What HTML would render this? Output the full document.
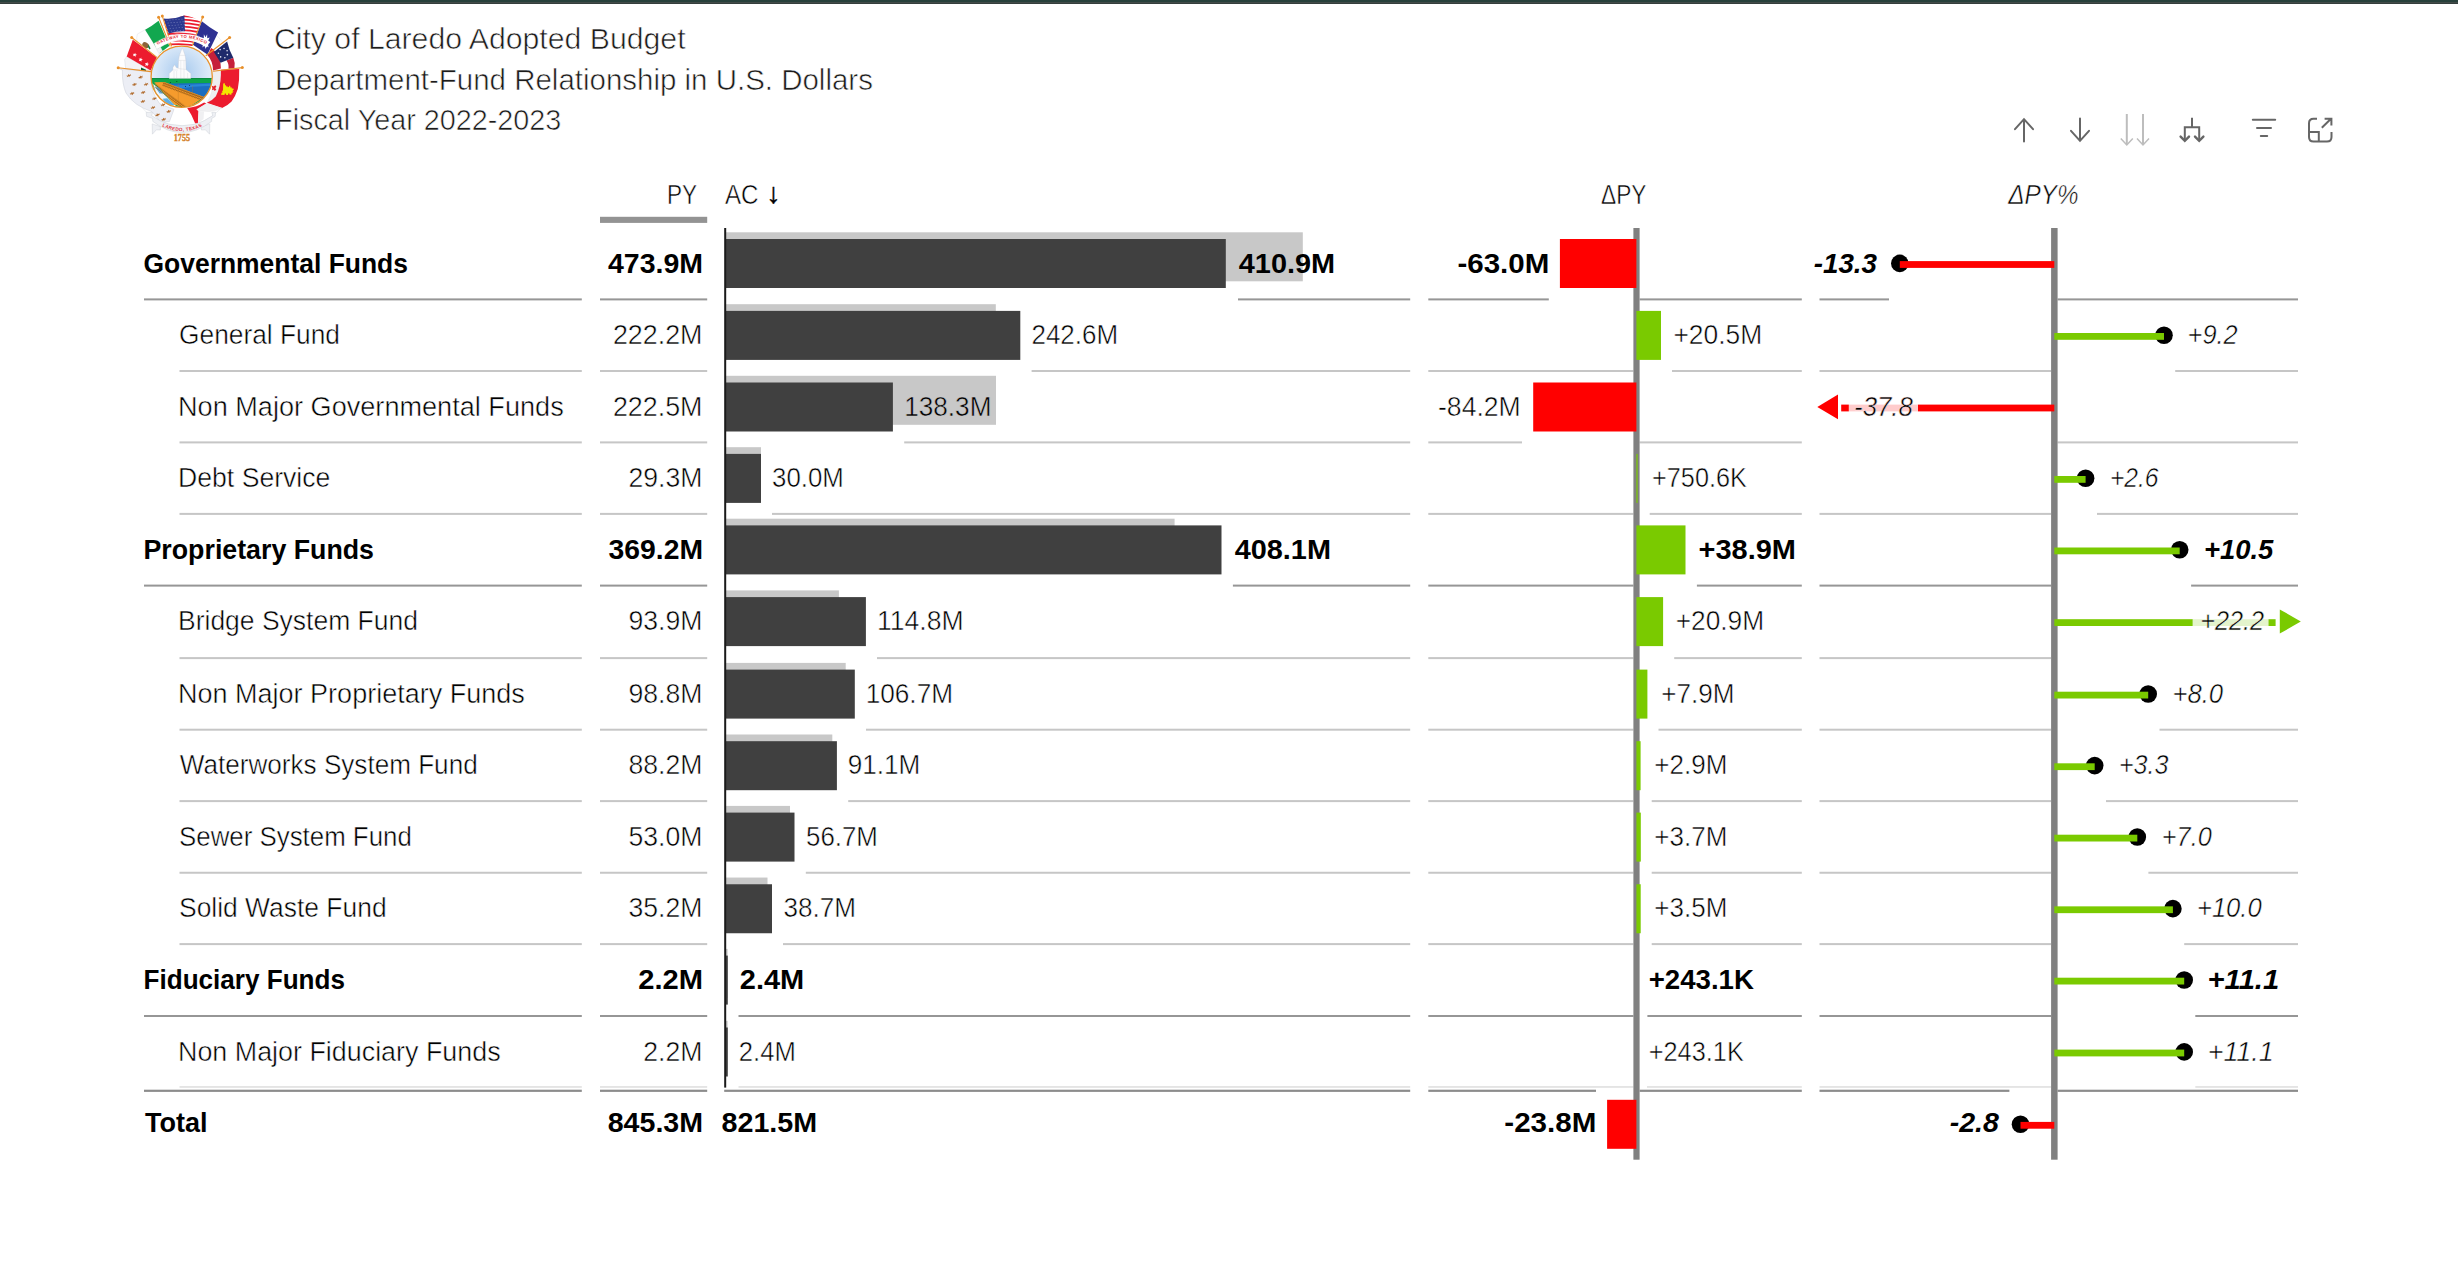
<!DOCTYPE html>
<html lang="en"><head><meta charset="utf-8"><title>City of Laredo Adopted Budget</title>
<style>
html,body{margin:0;padding:0;background:#fff;}
body{width:2458px;height:1274px;overflow:hidden;}
svg{display:block;font-family:'Liberation Sans', sans-serif;font-size:27px;fill:#000;}
svg text{white-space:pre;}
</style></head><body>
<svg width="2458" height="1274" viewBox="0 0 2458 1274">
<rect width="2458" height="1274" fill="#fff"/>
<g shape-rendering="geometricPrecision">
<rect x="0.00" y="0.00" width="2458.00" height="2.00" fill="#27403b"/>
<rect x="0.00" y="2.00" width="2458.00" height="1.00" fill="#414a48"/>
<rect x="0.00" y="3.00" width="2458.00" height="1.00" fill="#343e3c"/>
<rect x="600.00" y="216.80" width="107.20" height="6.10" fill="#939393"/>
<rect x="144.00" y="298.40" width="437.80" height="2.00" fill="#969696"/>
<rect x="600.00" y="298.40" width="107.20" height="2.00" fill="#969696"/>
<rect x="1238.00" y="298.40" width="172.20" height="2.00" fill="#969696"/>
<rect x="1428.30" y="298.40" width="120.50" height="2.00" fill="#969696"/>
<rect x="1639.60" y="298.40" width="162.20" height="2.00" fill="#969696"/>
<rect x="1819.50" y="298.40" width="69.50" height="2.00" fill="#969696"/>
<rect x="2057.60" y="298.40" width="240.40" height="2.00" fill="#969696"/>
<rect x="179.50" y="370.00" width="402.30" height="2.00" fill="#c6c6c6"/>
<rect x="600.00" y="370.00" width="107.20" height="2.00" fill="#c6c6c6"/>
<rect x="1031.60" y="370.00" width="378.60" height="2.00" fill="#c6c6c6"/>
<rect x="1428.30" y="370.00" width="205.10" height="2.00" fill="#c6c6c6"/>
<rect x="1672.00" y="370.00" width="129.80" height="2.00" fill="#c6c6c6"/>
<rect x="1819.50" y="370.00" width="231.60" height="2.00" fill="#c6c6c6"/>
<rect x="2175.20" y="370.00" width="122.80" height="2.00" fill="#c6c6c6"/>
<rect x="179.50" y="441.40" width="402.30" height="2.00" fill="#c6c6c6"/>
<rect x="600.00" y="441.40" width="107.20" height="2.00" fill="#c6c6c6"/>
<rect x="904.20" y="441.40" width="506.00" height="2.00" fill="#c6c6c6"/>
<rect x="1428.30" y="441.40" width="93.70" height="2.00" fill="#c6c6c6"/>
<rect x="1639.60" y="441.40" width="162.20" height="2.00" fill="#c6c6c6"/>
<rect x="2057.60" y="441.40" width="240.40" height="2.00" fill="#c6c6c6"/>
<rect x="179.50" y="512.90" width="402.30" height="2.00" fill="#c6c6c6"/>
<rect x="600.00" y="512.90" width="107.20" height="2.00" fill="#c6c6c6"/>
<rect x="772.00" y="512.90" width="638.20" height="2.00" fill="#c6c6c6"/>
<rect x="1428.30" y="512.90" width="205.10" height="2.00" fill="#c6c6c6"/>
<rect x="1649.70" y="512.90" width="152.10" height="2.00" fill="#c6c6c6"/>
<rect x="1819.50" y="512.90" width="231.60" height="2.00" fill="#c6c6c6"/>
<rect x="2097.00" y="512.90" width="201.00" height="2.00" fill="#c6c6c6"/>
<rect x="144.00" y="584.60" width="437.80" height="2.00" fill="#969696"/>
<rect x="600.00" y="584.60" width="107.20" height="2.00" fill="#969696"/>
<rect x="1232.90" y="584.60" width="177.30" height="2.00" fill="#969696"/>
<rect x="1428.30" y="584.60" width="205.10" height="2.00" fill="#969696"/>
<rect x="1696.90" y="584.60" width="104.90" height="2.00" fill="#969696"/>
<rect x="1819.50" y="584.60" width="231.60" height="2.00" fill="#969696"/>
<rect x="2191.10" y="584.60" width="106.90" height="2.00" fill="#969696"/>
<rect x="179.50" y="657.10" width="402.30" height="2.00" fill="#c6c6c6"/>
<rect x="600.00" y="657.10" width="107.20" height="2.00" fill="#c6c6c6"/>
<rect x="877.00" y="657.10" width="533.20" height="2.00" fill="#c6c6c6"/>
<rect x="1428.30" y="657.10" width="205.10" height="2.00" fill="#c6c6c6"/>
<rect x="1674.20" y="657.10" width="127.60" height="2.00" fill="#c6c6c6"/>
<rect x="1819.50" y="657.10" width="231.60" height="2.00" fill="#c6c6c6"/>
<rect x="179.50" y="728.70" width="402.30" height="2.00" fill="#c6c6c6"/>
<rect x="600.00" y="728.70" width="107.20" height="2.00" fill="#c6c6c6"/>
<rect x="866.00" y="728.70" width="544.20" height="2.00" fill="#c6c6c6"/>
<rect x="1428.30" y="728.70" width="205.10" height="2.00" fill="#c6c6c6"/>
<rect x="1658.50" y="728.70" width="143.30" height="2.00" fill="#c6c6c6"/>
<rect x="1819.50" y="728.70" width="231.60" height="2.00" fill="#c6c6c6"/>
<rect x="2159.50" y="728.70" width="138.50" height="2.00" fill="#c6c6c6"/>
<rect x="179.50" y="800.10" width="402.30" height="2.00" fill="#c6c6c6"/>
<rect x="600.00" y="800.10" width="107.20" height="2.00" fill="#c6c6c6"/>
<rect x="848.20" y="800.10" width="562.00" height="2.00" fill="#c6c6c6"/>
<rect x="1428.30" y="800.10" width="205.10" height="2.00" fill="#c6c6c6"/>
<rect x="1651.70" y="800.10" width="150.10" height="2.00" fill="#c6c6c6"/>
<rect x="1819.50" y="800.10" width="231.60" height="2.00" fill="#c6c6c6"/>
<rect x="2106.00" y="800.10" width="192.00" height="2.00" fill="#c6c6c6"/>
<rect x="179.50" y="871.75" width="402.30" height="2.00" fill="#c6c6c6"/>
<rect x="600.00" y="871.75" width="107.20" height="2.00" fill="#c6c6c6"/>
<rect x="805.80" y="871.75" width="604.40" height="2.00" fill="#c6c6c6"/>
<rect x="1428.30" y="871.75" width="205.10" height="2.00" fill="#c6c6c6"/>
<rect x="1651.70" y="871.75" width="150.10" height="2.00" fill="#c6c6c6"/>
<rect x="1819.50" y="871.75" width="231.60" height="2.00" fill="#c6c6c6"/>
<rect x="2148.40" y="871.75" width="149.60" height="2.00" fill="#c6c6c6"/>
<rect x="179.50" y="943.10" width="402.30" height="2.00" fill="#c6c6c6"/>
<rect x="600.00" y="943.10" width="107.20" height="2.00" fill="#c6c6c6"/>
<rect x="783.00" y="943.10" width="627.20" height="2.00" fill="#c6c6c6"/>
<rect x="1428.30" y="943.10" width="205.10" height="2.00" fill="#c6c6c6"/>
<rect x="1651.70" y="943.10" width="150.10" height="2.00" fill="#c6c6c6"/>
<rect x="1819.50" y="943.10" width="231.60" height="2.00" fill="#c6c6c6"/>
<rect x="2184.20" y="943.10" width="113.80" height="2.00" fill="#c6c6c6"/>
<rect x="144.00" y="1015.00" width="437.80" height="2.00" fill="#969696"/>
<rect x="600.00" y="1015.00" width="107.20" height="2.00" fill="#969696"/>
<rect x="738.50" y="1015.00" width="671.70" height="2.00" fill="#969696"/>
<rect x="1428.30" y="1015.00" width="205.10" height="2.00" fill="#969696"/>
<rect x="1647.40" y="1015.00" width="154.40" height="2.00" fill="#969696"/>
<rect x="1819.50" y="1015.00" width="231.60" height="2.00" fill="#969696"/>
<rect x="2195.30" y="1015.00" width="102.70" height="2.00" fill="#969696"/>
<rect x="179.50" y="1086.15" width="402.30" height="1.60" fill="#e0e0e0"/>
<rect x="144.00" y="1089.70" width="437.80" height="2.20" fill="#8c8c8c"/>
<rect x="600.00" y="1086.15" width="107.20" height="1.60" fill="#e0e0e0"/>
<rect x="600.00" y="1089.70" width="107.20" height="2.20" fill="#8c8c8c"/>
<rect x="738.50" y="1086.15" width="671.70" height="1.60" fill="#e0e0e0"/>
<rect x="724.20" y="1089.70" width="686.00" height="2.20" fill="#8c8c8c"/>
<rect x="1428.30" y="1086.15" width="205.10" height="1.60" fill="#e0e0e0"/>
<rect x="1647.00" y="1086.15" width="154.80" height="1.60" fill="#e0e0e0"/>
<rect x="1428.30" y="1089.70" width="167.70" height="2.20" fill="#8c8c8c"/>
<rect x="1639.60" y="1089.70" width="162.20" height="2.20" fill="#8c8c8c"/>
<rect x="1819.50" y="1086.15" width="231.60" height="1.60" fill="#e0e0e0"/>
<rect x="2195.30" y="1086.15" width="102.70" height="1.60" fill="#e0e0e0"/>
<rect x="1819.50" y="1089.70" width="189.90" height="2.20" fill="#8c8c8c"/>
<rect x="2057.60" y="1089.70" width="240.40" height="2.20" fill="#8c8c8c"/>
<rect x="1633.40" y="228.00" width="6.20" height="931.70" fill="#808080"/>
<rect x="2051.10" y="228.00" width="6.50" height="931.70" fill="#808080"/>
<rect x="726.00" y="232.30" width="576.80" height="49.00" fill="#c8c8c8"/>
<rect x="726.00" y="239.00" width="499.80" height="49.00" fill="#404040"/>
<rect x="726.00" y="304.20" width="269.80" height="49.00" fill="#c8c8c8"/>
<rect x="726.00" y="310.90" width="294.30" height="49.00" fill="#404040"/>
<rect x="726.00" y="375.80" width="270.00" height="49.00" fill="#c8c8c8"/>
<rect x="726.00" y="382.50" width="166.90" height="49.00" fill="#404040"/>
<rect x="726.00" y="447.20" width="35.00" height="49.00" fill="#c8c8c8"/>
<rect x="726.00" y="453.90" width="35.00" height="49.00" fill="#404040"/>
<rect x="726.00" y="518.70" width="448.60" height="49.00" fill="#c8c8c8"/>
<rect x="726.00" y="525.40" width="495.50" height="49.00" fill="#404040"/>
<rect x="726.00" y="590.40" width="112.90" height="49.00" fill="#c8c8c8"/>
<rect x="726.00" y="597.10" width="139.90" height="49.00" fill="#404040"/>
<rect x="726.00" y="662.90" width="119.70" height="49.00" fill="#c8c8c8"/>
<rect x="726.00" y="669.60" width="128.80" height="49.00" fill="#404040"/>
<rect x="726.00" y="734.50" width="106.30" height="49.00" fill="#c8c8c8"/>
<rect x="726.00" y="741.20" width="110.90" height="49.00" fill="#404040"/>
<rect x="726.00" y="805.90" width="64.00" height="49.00" fill="#c8c8c8"/>
<rect x="726.00" y="812.60" width="68.50" height="49.00" fill="#404040"/>
<rect x="726.00" y="877.55" width="41.50" height="49.00" fill="#c8c8c8"/>
<rect x="726.00" y="884.25" width="46.00" height="49.00" fill="#404040"/>
<rect x="726.00" y="948.90" width="1.60" height="49.00" fill="#c8c8c8"/>
<rect x="726.00" y="955.60" width="1.80" height="49.00" fill="#404040"/>
<rect x="726.00" y="1020.80" width="1.60" height="49.00" fill="#c8c8c8"/>
<rect x="726.00" y="1027.50" width="1.80" height="49.00" fill="#404040"/>
<rect x="724.20" y="228.00" width="2.00" height="859.60" fill="#1a1a1a"/>
<rect x="1559.90" y="239.00" width="76.50" height="49.00" fill="#ff0000"/>
<rect x="1636.40" y="310.90" width="24.60" height="49.00" fill="#7aca00"/>
<rect x="1533.20" y="382.50" width="103.20" height="49.00" fill="#ff0000"/>
<rect x="1636.40" y="453.90" width="1.20" height="49.00" fill="#7aca00"/>
<rect x="1636.40" y="525.40" width="49.10" height="49.00" fill="#7aca00"/>
<rect x="1636.40" y="597.10" width="26.70" height="49.00" fill="#7aca00"/>
<rect x="1636.40" y="669.60" width="11.00" height="49.00" fill="#7aca00"/>
<rect x="1636.40" y="741.20" width="4.20" height="49.00" fill="#7aca00"/>
<rect x="1636.40" y="812.60" width="4.40" height="49.00" fill="#7aca00"/>
<rect x="1636.40" y="884.25" width="4.30" height="49.00" fill="#7aca00"/>
<rect x="1607.10" y="1099.80" width="29.30" height="49.00" fill="#ff0000"/>
<circle cx="1899.80" cy="263.40" r="8.8" fill="#000"/>
<rect x="1899.80" y="261.10" width="154.50" height="6.80" fill="#ff0000"/>
<circle cx="2164.00" cy="335.30" r="8.8" fill="#000"/>
<rect x="2054.30" y="333.00" width="109.70" height="6.80" fill="#7aca00"/>
<rect x="1917.90" y="404.60" width="136.40" height="6.80" fill="#ff0000"/>
<rect x="1848.80" y="404.60" width="69.10" height="6.80" fill="#ffcccc"/>
<rect x="1841.20" y="404.60" width="7.60" height="6.80" fill="#ff0000"/>
<polygon points="1817.3,406.90 1838,394.60 1838,419.20" fill="#ff0000"/>
<circle cx="2085.60" cy="478.30" r="8.8" fill="#000"/>
<rect x="2054.30" y="476.00" width="31.30" height="6.80" fill="#7aca00"/>
<circle cx="2179.70" cy="549.80" r="8.8" fill="#000"/>
<rect x="2054.30" y="547.50" width="125.40" height="6.80" fill="#7aca00"/>
<rect x="2054.30" y="619.20" width="138.50" height="6.80" fill="#7aca00"/>
<rect x="2192.80" y="619.20" width="75.70" height="6.80" fill="#e4f4cc"/>
<rect x="2268.50" y="619.20" width="7.10" height="6.80" fill="#7aca00"/>
<polygon points="2300.8,621.50 2279.8,609.40 2279.8,633.60" fill="#7aca00"/>
<circle cx="2148.20" cy="694.00" r="8.8" fill="#000"/>
<rect x="2054.30" y="691.70" width="93.90" height="6.80" fill="#7aca00"/>
<circle cx="2094.70" cy="765.60" r="8.8" fill="#000"/>
<rect x="2054.30" y="763.30" width="40.40" height="6.80" fill="#7aca00"/>
<circle cx="2137.30" cy="837.00" r="8.8" fill="#000"/>
<rect x="2054.30" y="834.70" width="83.00" height="6.80" fill="#7aca00"/>
<circle cx="2172.90" cy="908.65" r="8.8" fill="#000"/>
<rect x="2054.30" y="906.35" width="118.60" height="6.80" fill="#7aca00"/>
<circle cx="2184.20" cy="980.00" r="8.8" fill="#000"/>
<rect x="2054.30" y="977.70" width="129.90" height="6.80" fill="#7aca00"/>
<circle cx="2184.20" cy="1051.90" r="8.8" fill="#000"/>
<rect x="2054.30" y="1049.60" width="129.90" height="6.80" fill="#7aca00"/>
<circle cx="2020.50" cy="1124.20" r="8.8" fill="#000"/>
<rect x="2020.50" y="1121.90" width="33.80" height="6.80" fill="#ff0000"/>
</g>
<g id="logo">
<defs>
<radialGradient id="sky" cx="0.5" cy="0.42" r="0.55"><stop offset="0" stop-color="#a6c9ee"/><stop offset="1" stop-color="#e8f1fb"/></radialGradient>
<clipPath id="seal"><circle cx="181.7" cy="76.8" r="30.2"/></clipPath>
<clipPath id="usclip"><path d="M163.7,18.4 Q174,19.5 184.4,15.6 Q193,16.5 200.7,22.1 L191.9,46 L171.2,46.5Z"/></clipPath>
<path id="fl" d="M0,-2.6 L0.9,-0.6 L3,-1.2 L2.2,0.4 L3,1.2 L0.8,0.8 L0,2.6 L-0.8,0.8 L-3,1.2 L-2.2,0.4 L-3,-1.2 L-0.9,-0.6Z"/>
<path id="gw" d="M153.8,46.9 L156.4,45.4 Q182.75,30.6 206.9,44.6 L209.5,46.2"/>
<path id="lt" d="M159.6,124.8 Q182.2,137.6 204.8,124.8"/>
</defs>
<circle cx="181.7" cy="74" r="52" fill="none" stroke="#e3e5ea" stroke-width="0.6"/>
<path d="M119,68.6 L151,72 L151,76 Q150,92 160,104 L174,109.3 L169.4,121.6 L160.8,122.2 L152,111.6 Q134,106 126,93 Q122,84 122.4,70Z" fill="#eceef5" stroke="#c9ccd6" stroke-width="0.5"/>
<use href="#fl" transform="translate(128.8,75.6) rotate(-20) scale(0.8,0.7)" fill="#b06a2c"/>
<use href="#fl" transform="translate(140.6,77.2) rotate(-20) scale(0.8,0.7)" fill="#b06a2c"/>
<use href="#fl" transform="translate(134.5,84.5) rotate(-20) scale(0.8,0.7)" fill="#b06a2c"/>
<use href="#fl" transform="translate(146.2,84.3) rotate(-20) scale(0.8,0.7)" fill="#b06a2c"/>
<use href="#fl" transform="translate(132.2,93.5) rotate(-20) scale(0.8,0.7)" fill="#b06a2c"/>
<use href="#fl" transform="translate(143.2,92.4) rotate(-20) scale(0.8,0.7)" fill="#b06a2c"/>
<use href="#fl" transform="translate(154.4,98.6) rotate(-20) scale(0.8,0.7)" fill="#b06a2c"/>
<use href="#fl" transform="translate(142.9,101.4) rotate(-20) scale(0.8,0.7)" fill="#b06a2c"/>
<use href="#fl" transform="translate(163.1,104.8) rotate(-20) scale(0.8,0.7)" fill="#b06a2c"/>
<use href="#fl" transform="translate(153,107.6) rotate(-20) scale(0.8,0.7)" fill="#b06a2c"/>
<use href="#fl" transform="translate(168.7,111.5) rotate(-20) scale(0.8,0.7)" fill="#b06a2c"/>
<use href="#fl" transform="translate(157.5,114.9) rotate(-20) scale(0.8,0.7)" fill="#b06a2c"/>
<use href="#fl" transform="translate(163.7,119.4) rotate(-20) scale(0.8,0.7)" fill="#b06a2c"/>
<path d="M126.7,56.6 L124.6,59.5 L125.6,68.6 L150.6,71.4 L150.7,70.6Z" fill="#f4f4f6" stroke="#d0d2d8" stroke-width="0.4"/>
<path d="M141,67.6 L146,69.8 L146,71 L141,70.4Z" fill="#0b5a2d"/>
<path d="M132.8,39.8 L156.9,57.4 L150.7,70.6 L126.7,56.6Z" fill="#ec1b2e"/>
<polygon points="135.30,52.68 135.45,54.29 137.00,54.78 135.51,55.43 135.52,57.05 134.45,55.83 132.91,56.35 133.74,54.95 132.77,53.65 134.35,54.00" fill="#fff"/>
<polygon points="141.20,57.48 141.35,59.09 142.90,59.58 141.41,60.23 141.42,61.85 140.35,60.63 138.81,61.15 139.64,59.75 138.67,58.45 140.25,58.80" fill="#fff"/>
<polygon points="147.40,61.98 147.55,63.59 149.10,64.08 147.61,64.73 147.62,66.35 146.55,65.13 145.01,65.65 145.84,64.25 144.87,62.95 146.45,63.30" fill="#fff"/>
<path d="M137.3,34.1 L145.1,29.7 L159.7,53.2 L156.9,57.4 L137.3,41.9 Q136,38 137.3,34.1Z" fill="#fdfdfd" stroke="#d6d8dc" stroke-width="0.4"/>
<ellipse cx="145.6" cy="45.2" rx="3.6" ry="2.6" fill="#8c6239" transform="rotate(35 145.6 45.2)"/>
<path d="M148.6,44.6 L150.6,48.4 L149.4,49.6 L147.8,46.4Z" fill="#1c7a3c"/>
<path d="M145.1,29.7 Q152,26 158.6,20.7 L169.3,45.9 L159.7,53.2Z" fill="#12a74f"/>
<g clip-path="url(#usclip)"><rect x="160" y="12" width="45" height="38" fill="#fff"/>
<path d="M160,16.80 Q182,12.20 205,18.40 L205,20.20 Q182,14.00 160,18.60Z" fill="#ec1b2e"/>
<path d="M160,20.35 Q182,15.75 205,21.95 L205,23.75 Q182,17.55 160,22.15Z" fill="#ec1b2e"/>
<path d="M160,23.90 Q182,19.30 205,25.50 L205,27.30 Q182,21.10 160,25.70Z" fill="#ec1b2e"/>
<path d="M160,27.45 Q182,22.85 205,29.05 L205,30.85 Q182,24.65 160,29.25Z" fill="#ec1b2e"/>
<path d="M160,31.00 Q182,26.40 205,32.60 L205,34.40 Q182,28.20 160,32.80Z" fill="#ec1b2e"/>
<path d="M160,34.55 Q182,29.95 205,36.15 L205,37.95 Q182,31.75 160,36.35Z" fill="#ec1b2e"/>
<path d="M160,38.10 Q182,33.50 205,39.70 L205,41.50 Q182,35.30 160,39.90Z" fill="#ec1b2e"/>
<path d="M160,41.65 Q182,37.05 205,43.25 L205,45.05 Q182,38.85 160,43.45Z" fill="#ec1b2e"/>
<path d="M160,45.20 Q182,40.60 205,46.80 L205,48.60 Q182,42.40 160,47.00Z" fill="#ec1b2e"/>
<path d="M160,48.75 Q182,44.15 205,50.35 L205,52.15 Q182,45.95 160,50.55Z" fill="#ec1b2e"/>
</g>
<path d="M163.7,18.4 Q174,19.5 184.4,15.6 L185,31.3 Q177,31 168.7,33.6Z" fill="#2b3990"/>
<circle cx="167.00" cy="20.30" r="0.38" fill="#c9cdea"/>
<circle cx="170.00" cy="20.05" r="0.38" fill="#c9cdea"/>
<circle cx="173.00" cy="19.80" r="0.38" fill="#c9cdea"/>
<circle cx="176.00" cy="19.55" r="0.38" fill="#c9cdea"/>
<circle cx="179.00" cy="19.30" r="0.38" fill="#c9cdea"/>
<circle cx="182.00" cy="19.05" r="0.38" fill="#c9cdea"/>
<circle cx="168.05" cy="23.00" r="0.38" fill="#c9cdea"/>
<circle cx="171.05" cy="22.75" r="0.38" fill="#c9cdea"/>
<circle cx="174.05" cy="22.50" r="0.38" fill="#c9cdea"/>
<circle cx="177.05" cy="22.25" r="0.38" fill="#c9cdea"/>
<circle cx="180.05" cy="22.00" r="0.38" fill="#c9cdea"/>
<circle cx="183.05" cy="21.75" r="0.38" fill="#c9cdea"/>
<circle cx="169.10" cy="25.70" r="0.38" fill="#c9cdea"/>
<circle cx="172.10" cy="25.45" r="0.38" fill="#c9cdea"/>
<circle cx="175.10" cy="25.20" r="0.38" fill="#c9cdea"/>
<circle cx="178.10" cy="24.95" r="0.38" fill="#c9cdea"/>
<circle cx="181.10" cy="24.70" r="0.38" fill="#c9cdea"/>
<circle cx="184.10" cy="24.45" r="0.38" fill="#c9cdea"/>
<circle cx="170.15" cy="28.40" r="0.38" fill="#c9cdea"/>
<circle cx="173.15" cy="28.15" r="0.38" fill="#c9cdea"/>
<circle cx="176.15" cy="27.90" r="0.38" fill="#c9cdea"/>
<circle cx="179.15" cy="27.65" r="0.38" fill="#c9cdea"/>
<circle cx="182.15" cy="27.40" r="0.38" fill="#c9cdea"/>
<circle cx="185.15" cy="27.15" r="0.38" fill="#c9cdea"/>
<circle cx="171.20" cy="31.10" r="0.38" fill="#c9cdea"/>
<circle cx="174.20" cy="30.85" r="0.38" fill="#c9cdea"/>
<circle cx="177.20" cy="30.60" r="0.38" fill="#c9cdea"/>
<circle cx="180.20" cy="30.35" r="0.38" fill="#c9cdea"/>
<circle cx="183.20" cy="30.10" r="0.38" fill="#c9cdea"/>
<circle cx="186.20" cy="29.85" r="0.38" fill="#c9cdea"/>
<path d="M201.8,21.2 Q210,28 218.1,32.5 L207.4,54.6 L192.9,44.8Z" fill="#2e3192"/>
<path d="M207.4,54.9 L211.4,48.2 Q217,52 218.9,57 Q221,63 220.9,68.6 L213.1,70.6 Q213,61 207.4,54.9Z" fill="#c6203a"/>
<path d="M209.6,51 L211.4,48.2 L214,50 L212.2,53Z" fill="#ec1b2e"/>
<path d="M233.3,57.7 Q235.6,63 234.4,68.4 L228.5,68.7 Q229,63.5 226.5,60.5Z" fill="#c6203a"/>
<path d="M227.1,41.4 Q229,50 233.3,57.7 L220.6,62.8 L213.9,52.1Z" fill="#1f2a6b"/>
<circle cx="220.09" cy="49.58" r="0.8" fill="#e8eaf4"/>
<circle cx="224.02" cy="48.46" r="0.8" fill="#e8eaf4"/>
<circle cx="227.10" cy="50.71" r="0.8" fill="#e8eaf4"/>
<circle cx="218.40" cy="53.23" r="0.8" fill="#e8eaf4"/>
<circle cx="227.38" cy="54.64" r="0.8" fill="#e8eaf4"/>
<circle cx="220.65" cy="56.88" r="0.8" fill="#e8eaf4"/>
<circle cx="224.86" cy="57.73" r="0.8" fill="#e8eaf4"/>
<path d="M213.1,71.2 L220.9,70 L220.9,75 Q220.6,87 215.9,96.3 Q212,101 206.9,102.8 Q213,93 213.4,80Z" fill="#eeeef0" stroke="#d8d8dc" stroke-width="0.3"/>
<path d="M220.9,69.8 L239.2,69 Q239.6,80 237.8,89 Q235.6,96 231.6,101.4 Q227,106 222.1,108.1 L206.9,102.8 Q212.4,100.6 215.9,96.3 Q220.6,87 220.9,75Z" fill="#ec1b2e"/>
<path d="M187.2,108.1 Q197,107 204.1,102.5 L206.3,103.6 L196.4,109.4 L198.5,110.9 L197.9,123.3 L195.1,123.3 Q192,115 187.2,108.1Z" fill="#ec1b2e"/>
<path d="M196.8,109.4 L206.5,103.6 L222.1,108.1 Q216,111 209.1,111.6 L198.7,110.8Z" fill="#f0f0f2" stroke="#d8d8dc" stroke-width="0.3"/>
<path d="M198.6,111 L204,111.4 L203.6,119 L198,123Z" fill="#f0f0f2"/>
<path d="M223.2,83.4 L224.8,83.2 L225.0,85.2 L226.0,85.2 L226.2,86.4 L227.6,86.2 L227.6,87.2 L229.0,87.0 L229.2,85.8 L230.2,85.8 L230.4,87.4 L231.6,87.2 L231.8,88.6 L233.4,88.6 L233.8,89.8 L232.6,90.2 L233.6,91.4 L232.2,91.8 L233.0,93.0 L231.4,93.2 L231.6,94.6 L229.6,94.8 L229.4,93.4 L228.0,93.6 L228.2,95.0 L226.2,95.0 L226.0,93.6 L224.6,93.8 L224.6,95.0 L221.0,94.8 L221.6,92.8 L222.6,92.6 L222.0,91.0 L223.0,90.4Z" fill="#f3e600"/>
<path d="M211.6,85.6 L213.4,86.4 L215.4,85.2 L216.4,86.8 L215.2,88 L216.4,90 L214.4,90.7 L213.4,89.4 L211.8,90.2 L212.4,88.2Z" fill="#e3262f"/>
<line x1="118.2" y1="67.8" x2="151" y2="71.6" stroke="#e8902a" stroke-width="1.1"/>
<circle cx="118.2" cy="67.8" r="1.5" fill="#e8902a"/>
<line x1="131.7" y1="37.5" x2="156.9" y2="57.4" stroke="#e8902a" stroke-width="1.1"/>
<circle cx="131.7" cy="37.5" r="1.5" fill="#e8902a"/>
<line x1="158.6" y1="17.3" x2="170.2" y2="46.4" stroke="#e8902a" stroke-width="1.1"/>
<circle cx="158.6" cy="17.3" r="1.5" fill="#e8902a"/>
<line x1="162.3" y1="15.9" x2="171.6" y2="46.3" stroke="#e8902a" stroke-width="1.1"/>
<circle cx="162.3" cy="15.9" r="1.5" fill="#e8902a"/>
<line x1="202.7" y1="17" x2="192.3" y2="45.9" stroke="#e8902a" stroke-width="1.1"/>
<circle cx="202.7" cy="17" r="1.5" fill="#e8902a"/>
<line x1="229.6" y1="37.5" x2="205.8" y2="55.8" stroke="#e8902a" stroke-width="1.1"/>
<circle cx="229.6" cy="37.5" r="1.5" fill="#e8902a"/>
<line x1="242.3" y1="67.6" x2="213.1" y2="71.2" stroke="#e8902a" stroke-width="1.1"/>
<circle cx="242.3" cy="67.6" r="1.5" fill="#e8902a"/>
<circle cx="181.7" cy="76.8" r="30.6" fill="url(#sky)"/>
<g clip-path="url(#seal)">
<rect x="150" y="78.1" width="64" height="32" fill="#0da64b"/>
<rect x="150" y="78.1" width="64" height="1.0" fill="#0a8a3d"/>
<path d="M166,83.4 L212,83 L212,100 L190,100Z" fill="#1b6ec0"/>
<path d="M173.8,85.5 L212,83.4 L212,86 Q195,85.4 178,89Z" fill="#2a86d6"/>
<path d="M153,84 L156,86 L176,106 L160,106Z" fill="#eef4fb"/>
<path d="M155.6,87.4 L158.6,87 L163,93.4 L159.6,93.6Z M162.6,98.8 L167.2,98.2 L174.4,104.8 L169,106.4Z" fill="#5fb0e6"/>
<path d="M154.1,82.3 L164.2,82 L204.1,96.9 L187.2,108.5 L174.2,104.6Z" fill="#f59b2d"/>
<path d="M164.2,82 L204.1,96.9 L202.4,98.2 L161.4,82.6Z" fill="#c98226" opacity="0.75"/>
<path d="M155.2,83.2 L188,107.6 L185.6,108 L154.2,84Z" fill="#c98226" opacity="0.55"/>
<path d="M163.22,84.23 L163.92,82.93 L164.62,84.23 M164.76,84.80 L165.46,83.50 L166.16,84.80 M166.31,85.38 L167.01,84.08 L167.71,85.38 M167.85,85.96 L168.55,84.66 L169.25,85.96 M169.39,86.53 L170.09,85.23 L170.79,86.53 M170.93,87.11 L171.63,85.81 L172.33,87.11 M172.47,87.69 L173.17,86.39 L173.87,87.69 M174.02,88.26 L174.72,86.96 L175.42,88.26 M175.56,88.84 L176.26,87.54 L176.96,88.84 M177.10,89.42 L177.80,88.12 L178.50,89.42 M178.64,89.99 L179.34,88.69 L180.04,89.99 M180.19,90.57 L180.89,89.27 L181.59,90.57 M181.73,91.15 L182.43,89.85 L183.13,91.15 M183.27,91.73 L183.97,90.43 L184.67,91.73 M184.81,92.30 L185.51,91.00 L186.21,92.30 M186.36,92.88 L187.06,91.58 L187.76,92.88 M187.90,93.46 L188.60,92.16 L189.30,93.46 M189.44,94.03 L190.14,92.73 L190.84,94.03 M190.98,94.61 L191.68,93.31 L192.38,94.61 M192.52,95.19 L193.22,93.89 L193.92,95.19 M194.07,95.76 L194.77,94.46 L195.47,95.76 M195.61,96.34 L196.31,95.04 L197.01,96.34 M197.15,96.92 L197.85,95.62 L198.55,96.92 M198.69,97.49 L199.39,96.19 L200.09,97.49 M200.24,98.07 L200.94,96.77 L201.64,98.07 M201.78,98.65 L202.48,97.35 L203.18,98.65 M162.63,86.01 L163.33,84.71 L164.03,86.01 M164.14,86.58 L164.84,85.28 L165.54,86.58 M165.65,87.15 L166.35,85.85 L167.05,87.15 M167.15,87.71 L167.85,86.41 L168.55,87.71 M168.66,88.28 L169.36,86.98 L170.06,88.28 M170.17,88.85 L170.87,87.55 L171.57,88.85 M171.68,89.42 L172.38,88.12 L173.08,89.42 M173.18,89.99 L173.88,88.69 L174.58,89.99 M174.69,90.56 L175.39,89.26 L176.09,90.56 M176.20,91.13 L176.90,89.83 L177.60,91.13 M177.71,91.70 L178.41,90.40 L179.11,91.70 M179.21,92.27 L179.91,90.97 L180.61,92.27 M180.72,92.84 L181.42,91.54 L182.12,92.84 M182.23,93.41 L182.93,92.11 L183.63,93.41 M183.74,93.98 L184.44,92.68 L185.14,93.98 M185.25,94.55 L185.95,93.25 L186.65,94.55 M186.75,95.11 L187.45,93.81 L188.15,95.11 M188.26,95.68 L188.96,94.38 L189.66,95.68 M189.77,96.25 L190.47,94.95 L191.17,96.25 M191.28,96.82 L191.98,95.52 L192.68,96.82 M192.78,97.39 L193.48,96.09 L194.18,97.39 M194.29,97.96 L194.99,96.66 L195.69,97.96 M195.80,98.53 L196.50,97.23 L197.20,98.53 M197.31,99.10 L198.01,97.80 L198.71,99.10 M198.81,99.67 L199.51,98.37 L200.21,99.67 M200.32,100.24 L201.02,98.94 L201.72,100.24" stroke="#7a4a12" stroke-width="0.55" fill="none" opacity="0.9"/>
<path d="M155.47,86.45 L156.17,85.15 L156.87,86.45 M156.88,87.49 L157.58,86.19 L158.28,87.49 M158.29,88.54 L158.99,87.24 L159.69,88.54 M159.70,89.58 L160.40,88.28 L161.10,89.58 M161.10,90.63 L161.80,89.33 L162.50,90.63 M162.51,91.67 L163.21,90.37 L163.91,91.67 M163.92,92.72 L164.62,91.42 L165.32,92.72 M165.33,93.76 L166.03,92.46 L166.73,93.76 M166.74,94.81 L167.44,93.51 L168.14,94.81 M168.15,95.85 L168.85,94.55 L169.55,95.85 M169.56,96.90 L170.26,95.60 L170.96,96.90 M170.97,97.95 L171.67,96.65 L172.37,97.95 M172.38,98.99 L173.08,97.69 L173.78,98.99 M173.79,100.04 L174.49,98.74 L175.19,100.04 M175.20,101.08 L175.90,99.78 L176.60,101.08 M176.60,102.13 L177.30,100.83 L178.00,102.13 M178.01,103.17 L178.71,101.87 L179.41,103.17 M179.42,104.22 L180.12,102.92 L180.82,104.22 M180.83,105.26 L181.53,103.96 L182.23,105.26 M182.24,106.31 L182.94,105.01 L183.64,106.31 M183.65,107.35 L184.35,106.05 L185.05,107.35 M185.06,108.40 L185.76,107.10 L186.46,108.40 M154.60,88.11 L155.30,86.81 L156.00,88.11 M155.98,89.12 L156.68,87.82 L157.38,89.12 M157.36,90.13 L158.06,88.83 L158.76,90.13 M158.75,91.14 L159.45,89.84 L160.15,91.14 M160.13,92.15 L160.83,90.85 L161.53,92.15 M161.51,93.16 L162.21,91.86 L162.91,93.16 M162.89,94.17 L163.59,92.87 L164.29,94.17 M164.27,95.18 L164.97,93.88 L165.67,95.18 M165.66,96.18 L166.36,94.88 L167.06,96.18 M167.04,97.19 L167.74,95.89 L168.44,97.19 M168.42,98.20 L169.12,96.90 L169.82,98.20 M169.80,99.21 L170.50,97.91 L171.20,99.21 M171.18,100.22 L171.88,98.92 L172.58,100.22 M172.56,101.23 L173.26,99.93 L173.96,101.23 M173.95,102.24 L174.65,100.94 L175.35,102.24 M175.33,103.25 L176.03,101.95 L176.73,103.25 M176.71,104.26 L177.41,102.96 L178.11,104.26 M178.09,105.27 L178.79,103.97 L179.49,105.27 M179.47,106.28 L180.17,104.98 L180.87,106.28 M180.86,107.28 L181.56,105.98 L182.26,107.28 M182.24,108.29 L182.94,106.99 L183.64,108.29 M183.62,109.30 L184.32,108.00 L185.02,109.30" stroke="#7a4a12" stroke-width="0.55" fill="none" opacity="0.75"/>
<path d="M178.3,83.6 L178.3,104.8 M192.6,86 L192.6,93" stroke="#b8761f" stroke-width="0.4" fill="none" opacity="0.8"/>
<circle cx="170.4" cy="82.4" r="0.5" fill="#0a3a1a"/><circle cx="176.8" cy="81.6" r="0.5" fill="#0a3a1a"/><circle cx="185.5" cy="86.6" r="0.5" fill="#0a2a4a"/><circle cx="189.6" cy="85.4" r="0.5" fill="#0a2a4a"/>
<path d="M169.2,78.4 L169.2,73.6 L172.9,70 L172.9,67.6 L174.6,64.8 L175.4,66 L176.2,67.6 L178.2,68.2 L178.6,60 L179.4,55.4 L181.2,50.6 L182.3,47.8 L183.4,50.6 L185.1,55.4 L185.8,60 L186,69.6 L189.6,72.4 L190.8,73.6 L190.8,78.4Z" fill="#fcfcfd" stroke="#c4c8d0" stroke-width="0.35"/>
<path d="M179.4,55.4 L185.1,55.4 M178.8,60.4 L185.8,60.4 M178.4,68.6 L186,69.4 M172.9,70 L177.8,70 M180.8,60.6 L180.8,78 M184,60.6 L184,78 M174,71 L174,78 M176.6,71 L176.6,78 M187.6,73 L187.6,78" stroke="#c4c8d0" stroke-width="0.3" fill="none"/>
</g>
<circle cx="181.7" cy="76.8" r="30.6" fill="none" stroke="#e8902a" stroke-width="1.3"/>
<g transform="translate(205.5,41.5) scale(0.62,1) rotate(20)"><polygon points="0.00,-7.80 1.47,-4.03 5.01,-5.98 3.72,-2.14 7.68,-1.35 4.22,0.74 6.75,3.90 2.76,3.29 2.67,7.33 0.00,4.29 -2.67,7.33 -2.76,3.29 -6.75,3.90 -4.22,0.74 -7.68,-1.35 -3.72,-2.15 -5.01,-5.98 -1.47,-4.03" fill="#fff"/></g>
<path d="M156.6,49.5 L158.8,53.4 L162.6,51 L160.4,46.8Z" fill="#f2f2f4" stroke="#d9dade" stroke-width="0.3"/>
<path d="M154.1,43.3 Q182.45,25.8 209.8,41.5 L206.9,47.6 Q182.65,32.2 156.6,49.5Z" fill="#fff"/>
<path d="M154.1,43.3 Q182.45,25.8 200,37 M156.6,49.5 Q182.65,32.2 200,43.4 M154.1,43.3 L156.6,49.5" fill="none" stroke="#d9dade" stroke-width="0.3"/>
<text font-family="'Liberation Sans',sans-serif" font-weight="700" font-size="4.1" fill="#e3262f" textLength="51" lengthAdjust="spacing"><textPath href="#gw" startOffset="50%" text-anchor="middle" textLength="51" lengthAdjust="spacing">GATEWAY TO MEXICO</textPath></text>
<path d="M152.2,123.9 L160.4,126.6 L160.4,130 L156.4,129.8 L152.4,134.2Z" fill="#eef0f4" stroke="#c3c7cf" stroke-width="0.4"/>
<path d="M209.8,123.9 L201.4,126.6 L201.4,130 L205.4,129.8 L209.6,134.2Z" fill="#eef0f4" stroke="#c3c7cf" stroke-width="0.4"/>
<path d="M146.2,112.4 L152.6,112.4 L151.6,115.6 Q160,121.6 169,124.2 Q182.2,127.2 195.4,124.2 Q204.4,121.6 212.8,115.6 L211.8,112.4 L215.6,112.4 L215.2,116.4 L211.8,118.4 L211.6,121.4 Q197,132.6 182.2,132.6 Q167.4,132.6 152.8,121.4 L152.6,118.4 L146.6,116.4Z" fill="#eef0f4" stroke="#c3c7cf" stroke-width="0.4"/>
<text font-family="'Liberation Sans',sans-serif" font-weight="700" font-size="4.7" fill="#e3373f" letter-spacing="0.3"><textPath href="#lt" startOffset="50%" text-anchor="middle">LAREDO, TEXAS</textPath></text>
<text x="181.9" y="140.6" text-anchor="middle" font-family="'Liberation Serif',serif" font-weight="700" font-size="9.4" fill="#d4832c" stroke="#d4832c" stroke-width="0.35" textLength="16.4" lengthAdjust="spacingAndGlyphs">1755</text>
</g>
<g fill="none" stroke="#666666" stroke-width="2" stroke-linecap="round" stroke-linejoin="miter">
<path d="M2024 141.4V119.4M2015 129.2L2024 119.2L2033 129.2"/>
<path d="M2080 118.6V140.6M2071 130.8L2080 140.8L2089 130.8"/>
<path d="M2252.8 119.8H2275.2M2257 128H2271M2260.8 136.1H2267.2"/>
</g>
<g fill="none" stroke="#666666" stroke-width="2" stroke-linecap="butt" stroke-linejoin="miter">
<path d="M2192 117.8V127.2M2184.8 140V127.2H2199.2V140"/>
<path d="M2180.6 136.6L2184.8 140.8L2189 136.6M2195 136.6L2199.2 140.8L2203.4 136.6" stroke-width="2.4" stroke-linecap="round"/>
<path d="M2317 118.8H2313.5Q2309 118.8 2309 123.3V137Q2309 141.5 2313.5 141.5H2327Q2331.5 141.5 2331.5 137V132M2309 132H2318.8V141.5M2321.8 127.8L2331 118.8M2324.6 118.8H2331.4V125.4"/>
</g>
<g fill="none" stroke="#bdbdbd">
<path d="M2126.8 114V144.6M2143 114V144.6" stroke-width="2"/>
<path d="M2120.8 138.4L2126.8 145L2132.8 138.4M2137 138.4L2143 145L2149 138.4" stroke-width="1.5"/>
</g>

<g>
<text x="273.90" y="49.00" textLength="411.64" lengthAdjust="spacingAndGlyphs" font-size="30" fill="#1c1b1a" stroke="#fff" stroke-width="0.6">City of Laredo Adopted Budget</text>
<text x="275.04" y="89.90" textLength="597.85" lengthAdjust="spacingAndGlyphs" font-size="30" fill="#1c1b1a" stroke="#fff" stroke-width="0.6">Department-Fund Relationship in U.S. Dollars</text>
<text x="275.09" y="130.40" textLength="286.27" lengthAdjust="spacingAndGlyphs" font-size="30" fill="#1c1b1a" stroke="#fff" stroke-width="0.6">Fiscal Year 2022-2023</text>
<text x="666.93" y="203.80" textLength="30.08" lengthAdjust="spacingAndGlyphs" stroke="#fff" stroke-width="0.5">PY</text>
<text x="725.00" y="203.80" textLength="33.55" lengthAdjust="spacingAndGlyphs" stroke="#fff" stroke-width="0.5">AC</text>
<text x="765.94" y="202.95" textLength="14.41" lengthAdjust="spacingAndGlyphs" font-size="28.43" stroke="#000" stroke-width="0.45">↓</text>
<text x="1601.00" y="203.80" textLength="45.41" lengthAdjust="spacingAndGlyphs" stroke="#fff" stroke-width="0.5">ΔPY</text>
<text x="2008.30" y="203.80" textLength="70.21" lengthAdjust="spacingAndGlyphs" font-style="italic" stroke="#fff" stroke-width="0.5">ΔPY%</text>
<text x="143.52" y="273.00" textLength="264.47" lengthAdjust="spacingAndGlyphs" font-weight="700">Governmental Funds</text>
<text x="608.00" y="273.00" textLength="94.97" lengthAdjust="spacingAndGlyphs" font-weight="700">473.9M</text>
<text x="1238.80" y="273.00" textLength="96.29" lengthAdjust="spacingAndGlyphs" font-weight="700">410.9M</text>
<text x="1457.41" y="273.00" textLength="91.82" lengthAdjust="spacingAndGlyphs" font-weight="700">-63.0M</text>
<text x="1813.70" y="273.00" textLength="63.32" lengthAdjust="spacingAndGlyphs" font-weight="700" font-style="italic">-13.3</text>
<text x="179.03" y="344.00" textLength="160.97" lengthAdjust="spacingAndGlyphs" stroke="#fff" stroke-width="0.5">General Fund</text>
<text x="612.91" y="344.00" textLength="89.58" lengthAdjust="spacingAndGlyphs" stroke="#fff" stroke-width="0.5">222.2M</text>
<text x="1031.44" y="344.00" textLength="86.60" lengthAdjust="spacingAndGlyphs" stroke="#fff" stroke-width="0.5">242.6M</text>
<text x="1673.42" y="344.00" textLength="88.73" lengthAdjust="spacingAndGlyphs" stroke="#fff" stroke-width="0.5">+20.5M</text>
<text x="2187.56" y="344.00" textLength="50.16" lengthAdjust="spacingAndGlyphs" font-style="italic" stroke="#fff" stroke-width="0.5">+9.2</text>
<text x="177.99" y="416.00" textLength="385.71" lengthAdjust="spacingAndGlyphs" stroke="#fff" stroke-width="0.5">Non Major Governmental Funds</text>
<text x="612.91" y="416.00" textLength="89.58" lengthAdjust="spacingAndGlyphs" stroke="#fff" stroke-width="0.5">222.5M</text>
<text x="904.26" y="416.00" textLength="87.18" lengthAdjust="spacingAndGlyphs" stroke="#c8c8c8" stroke-width="0.5">138.3M</text>
<text x="1438.02" y="416.00" textLength="82.75" lengthAdjust="spacingAndGlyphs" stroke="#fff" stroke-width="0.5">-84.2M</text>
<text x="1854.05" y="416.00" textLength="58.77" lengthAdjust="spacingAndGlyphs" font-style="italic" stroke="#ffe9e9" stroke-width="0.5">-37.8</text>
<text x="178.03" y="487.00" textLength="152.37" lengthAdjust="spacingAndGlyphs" stroke="#fff" stroke-width="0.5">Debt Service</text>
<text x="628.51" y="487.00" textLength="73.96" lengthAdjust="spacingAndGlyphs" stroke="#fff" stroke-width="0.5">29.3M</text>
<text x="772.04" y="487.00" textLength="71.78" lengthAdjust="spacingAndGlyphs" stroke="#fff" stroke-width="0.5">30.0M</text>
<text x="1652.07" y="487.00" textLength="94.74" lengthAdjust="spacingAndGlyphs" stroke="#fff" stroke-width="0.5">+750.6K</text>
<text x="2109.89" y="487.00" textLength="48.71" lengthAdjust="spacingAndGlyphs" font-style="italic" stroke="#fff" stroke-width="0.5">+2.6</text>
<text x="143.51" y="559.00" textLength="230.50" lengthAdjust="spacingAndGlyphs" font-weight="700">Proprietary Funds</text>
<text x="608.60" y="559.00" textLength="94.36" lengthAdjust="spacingAndGlyphs" font-weight="700">369.2M</text>
<text x="1234.70" y="559.00" textLength="96.29" lengthAdjust="spacingAndGlyphs" font-weight="700">408.1M</text>
<text x="1698.63" y="559.00" textLength="97.27" lengthAdjust="spacingAndGlyphs" font-weight="700">+38.9M</text>
<text x="2203.88" y="559.00" textLength="69.42" lengthAdjust="spacingAndGlyphs" font-weight="700" font-style="italic">+10.5</text>
<text x="178.04" y="630.00" textLength="239.86" lengthAdjust="spacingAndGlyphs" stroke="#fff" stroke-width="0.5">Bridge System Fund</text>
<text x="628.51" y="630.00" textLength="73.96" lengthAdjust="spacingAndGlyphs" stroke="#fff" stroke-width="0.5">93.9M</text>
<text x="877.03" y="630.00" textLength="86.63" lengthAdjust="spacingAndGlyphs" stroke="#fff" stroke-width="0.5">114.8M</text>
<text x="1675.73" y="630.00" textLength="88.43" lengthAdjust="spacingAndGlyphs" stroke="#fff" stroke-width="0.5">+20.9M</text>
<text x="2200.16" y="630.00" textLength="64.05" lengthAdjust="spacingAndGlyphs" font-style="italic" stroke="#f4fae9" stroke-width="0.5">+22.2</text>
<text x="178.00" y="702.50" textLength="346.80" lengthAdjust="spacingAndGlyphs" stroke="#fff" stroke-width="0.5">Non Major Proprietary Funds</text>
<text x="628.51" y="702.50" textLength="73.96" lengthAdjust="spacingAndGlyphs" stroke="#fff" stroke-width="0.5">98.8M</text>
<text x="865.66" y="702.50" textLength="87.39" lengthAdjust="spacingAndGlyphs" stroke="#fff" stroke-width="0.5">106.7M</text>
<text x="1661.34" y="702.50" textLength="73.10" lengthAdjust="spacingAndGlyphs" stroke="#fff" stroke-width="0.5">+7.9M</text>
<text x="2172.45" y="702.50" textLength="50.67" lengthAdjust="spacingAndGlyphs" font-style="italic" stroke="#fff" stroke-width="0.5">+8.0</text>
<text x="179.80" y="774.00" textLength="297.88" lengthAdjust="spacingAndGlyphs" stroke="#fff" stroke-width="0.5">Waterworks System Fund</text>
<text x="628.51" y="774.00" textLength="73.96" lengthAdjust="spacingAndGlyphs" stroke="#fff" stroke-width="0.5">88.2M</text>
<text x="847.73" y="774.00" textLength="72.61" lengthAdjust="spacingAndGlyphs" stroke="#fff" stroke-width="0.5">91.1M</text>
<text x="1654.34" y="774.00" textLength="73.00" lengthAdjust="spacingAndGlyphs" stroke="#fff" stroke-width="0.5">+2.9M</text>
<text x="2118.97" y="774.00" textLength="49.44" lengthAdjust="spacingAndGlyphs" font-style="italic" stroke="#fff" stroke-width="0.5">+3.3</text>
<text x="179.04" y="845.70" textLength="232.73" lengthAdjust="spacingAndGlyphs" stroke="#fff" stroke-width="0.5">Sewer System Fund</text>
<text x="628.51" y="845.70" textLength="73.96" lengthAdjust="spacingAndGlyphs" stroke="#fff" stroke-width="0.5">53.0M</text>
<text x="806.04" y="845.70" textLength="71.89" lengthAdjust="spacingAndGlyphs" stroke="#fff" stroke-width="0.5">56.7M</text>
<text x="1654.34" y="845.70" textLength="73.00" lengthAdjust="spacingAndGlyphs" stroke="#fff" stroke-width="0.5">+3.7M</text>
<text x="2161.86" y="845.70" textLength="49.85" lengthAdjust="spacingAndGlyphs" font-style="italic" stroke="#fff" stroke-width="0.5">+7.0</text>
<text x="179.02" y="917.40" textLength="207.57" lengthAdjust="spacingAndGlyphs" stroke="#fff" stroke-width="0.5">Solid Waste Fund</text>
<text x="628.51" y="917.40" textLength="73.96" lengthAdjust="spacingAndGlyphs" stroke="#fff" stroke-width="0.5">35.2M</text>
<text x="783.43" y="917.40" textLength="72.51" lengthAdjust="spacingAndGlyphs" stroke="#fff" stroke-width="0.5">38.7M</text>
<text x="1654.34" y="917.40" textLength="73.00" lengthAdjust="spacingAndGlyphs" stroke="#fff" stroke-width="0.5">+3.5M</text>
<text x="2196.95" y="917.40" textLength="64.76" lengthAdjust="spacingAndGlyphs" font-style="italic" stroke="#fff" stroke-width="0.5">+10.0</text>
<text x="143.53" y="989.30" textLength="201.45" lengthAdjust="spacingAndGlyphs" font-weight="700">Fiduciary Funds</text>
<text x="638.30" y="989.30" textLength="64.71" lengthAdjust="spacingAndGlyphs" font-weight="700">2.2M</text>
<text x="739.80" y="989.30" textLength="64.40" lengthAdjust="spacingAndGlyphs" font-weight="700">2.4M</text>
<text x="1648.68" y="989.30" textLength="105.21" lengthAdjust="spacingAndGlyphs" font-weight="700">+243.1K</text>
<text x="2207.62" y="989.30" textLength="71.58" lengthAdjust="spacingAndGlyphs" font-weight="700" font-style="italic">+11.1</text>
<text x="178.01" y="1061.20" textLength="322.59" lengthAdjust="spacingAndGlyphs" stroke="#fff" stroke-width="0.5">Non Major Fiduciary Funds</text>
<text x="643.21" y="1061.20" textLength="59.26" lengthAdjust="spacingAndGlyphs" stroke="#fff" stroke-width="0.5">2.2M</text>
<text x="738.85" y="1061.20" textLength="57.07" lengthAdjust="spacingAndGlyphs" stroke="#fff" stroke-width="0.5">2.4M</text>
<text x="1648.76" y="1061.20" textLength="95.05" lengthAdjust="spacingAndGlyphs" stroke="#fff" stroke-width="0.5">+243.1K</text>
<text x="2207.70" y="1061.20" textLength="66.11" lengthAdjust="spacingAndGlyphs" font-style="italic" stroke="#fff" stroke-width="0.5">+11.1</text>
<text x="145.00" y="1132.40" textLength="62.50" lengthAdjust="spacingAndGlyphs" font-weight="700">Total</text>
<text x="607.70" y="1132.40" textLength="95.38" lengthAdjust="spacingAndGlyphs" font-weight="700">845.3M</text>
<text x="721.50" y="1132.40" textLength="95.68" lengthAdjust="spacingAndGlyphs" font-weight="700">821.5M</text>
<text x="1504.30" y="1132.40" textLength="92.03" lengthAdjust="spacingAndGlyphs" font-weight="700">-23.8M</text>
<text x="1949.70" y="1132.40" textLength="49.22" lengthAdjust="spacingAndGlyphs" font-weight="700" font-style="italic">-2.8</text>
</g>
</svg>
</body></html>
